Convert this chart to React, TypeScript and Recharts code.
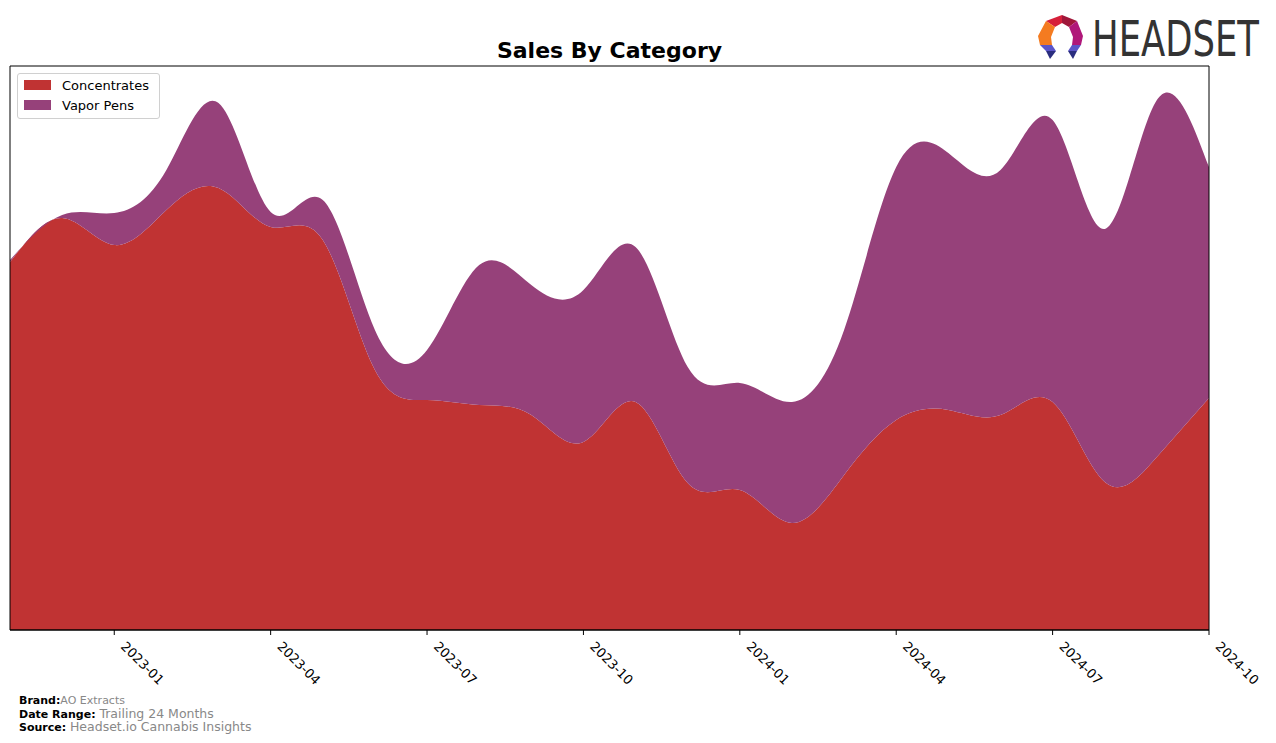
import React from "react";
import { AreaChart, Area, XAxis, YAxis, ReferenceArea } from "recharts";

const months = [
  "2022-11", "2022-12", "2023-01", "2023-02", "2023-03", "2023-04", "2023-05", "2023-06",
  "2023-07", "2023-08", "2023-09", "2023-10", "2023-11", "2023-12", "2024-01", "2024-02",
  "2024-03", "2024-04", "2024-05", "2024-06", "2024-07", "2024-08", "2024-09", "2024-10",
];
const concentrates = [368, 412, 385, 420, 442, 403, 390, 260, 230, 225, 215, 188, 228, 147, 140, 107, 155, 210, 220, 215, 228, 148, 173, 232];
const vaporPens = [2, 3, 32, 40, 85, 15, 40, 40, 50, 140, 130, 152, 155, 116, 107, 121, 145, 253, 257, 245, 282, 253, 357, 231];
const tickIdx = [2, 5, 8, 11, 14, 17, 20, 23];

const data = months.map((m, i) => ({ i, month: m, Concentrates: concentrates[i], "Vapor Pens": vaporPens[i] }));

const RED = "#C03333";
const PURPLE = "#96417A";
const FONT = "'DejaVu Sans', sans-serif";

const Tick = (props: any) => {
  const { x, y, payload } = props;
  const ox = x + 13;
  const oy = y + 3;
  return (
    <g>
      <text
        x={ox}
        y={oy}
        dy="0.78em"
        transform={`rotate(45, ${ox}, ${oy})`}
        textAnchor="start"
        fontSize={13}
        fontFamily={FONT}
        fill="#000"
      >
        {months[payload.value]}
      </text>
    </g>
  );
};

const LegendBox = () => (
  <div
    style={{
      position: "absolute",
      left: 17,
      top: 73,
      width: 141,
      height: 44,
      border: "1px solid #d0d0d0",
      borderRadius: 3,
      background: "rgba(255,255,255,0.8)",
      fontFamily: FONT,
      fontSize: 13,
      color: "#000",
    }}
  >
    {[
      ["Concentrates", RED],
      ["Vapor Pens", PURPLE],
    ].map(([name, c], k) => (
      <div key={name} style={{ position: "absolute", left: 6, top: 3 + k * 20, height: 16, display: "flex", alignItems: "center" }}>
        <div style={{ width: 27, height: 10, background: c }} />
        <span style={{ marginLeft: 11, whiteSpace: "nowrap" }}>{name}</span>
      </div>
    ))}
  </div>
);

const Logo = () => (
  <svg width={240} height={70} style={{ position: "absolute", left: 1030, top: 0, overflow: "visible" }}>
    <polygon points="16,21 32,15 32,23 25,27" fill="#D6203A" />
    <polygon points="32,15 47,21 39,27 32,23" fill="#A0173A" />
    <polygon points="47,21 53,36 51,45 42,45 43,37 39,27" fill="#B0187A" />
    <polygon points="16,21 25,27 21,37 22,45 10,45 8,36" fill="#F47B20" />
    <polygon points="10,45 22,45 26,51 16,51" fill="#5B55C8" />
    <polygon points="16,51 26,51 20,59" fill="#2A2D7F" />
    <polygon points="42,45 51,45 47,51 38,51" fill="#5B55C8" />
    <polygon points="38,51 47,51 43,59" fill="#2A2D7F" />
    <g transform="scale(1,1.24)">
      <text x={62} y={45.2} fontSize={40} fontFamily="'DejaVu Sans Condensed', 'Liberation Sans Narrow', sans-serif" fill="#333" textLength={167} lengthAdjust="spacingAndGlyphs">
        HEADSET
      </text>
    </g>
  </svg>
);

const footLine: React.CSSProperties = { height: 13.5, lineHeight: "13.5px", whiteSpace: "nowrap" };

export default function App() {
  return (
    <div style={{ position: "absolute", left: 0, top: 0, width: 1276, height: 743, background: "#fff", fontFamily: FONT }}>
      <div
        style={{
          position: "absolute",
          left: 10,
          width: 1199,
          top: 39,
          textAlign: "center",
          fontSize: 22,
          fontWeight: "bold",
          fontFamily: FONT,
          lineHeight: "24px",
        }}
      >
        Sales By Category
      </div>
      <Logo />
      <div style={{ position: "absolute", left: 0, top: 0 }}>
        <AreaChart width={1276} height={743} data={data} margin={{ top: 66, right: 67, left: 10, bottom: 83 }}>
          <XAxis
            dataKey="i"
            type="number"
            domain={[0, 23]}
            ticks={tickIdx}
            tick={<Tick />}
            tickSize={5}
            tickLine={{ stroke: "#000" }}
            axisLine={{ stroke: "#000" }}
            height={30}
            interval={0}
          />
          <YAxis hide domain={[0, 564]} />
          <Area type="natural" dataKey="Concentrates" stackId="1" stroke="none" fill={RED} fillOpacity={1} isAnimationActive={false} />
          <Area type="natural" dataKey="Vapor Pens" stackId="1" stroke="none" fill={PURPLE} fillOpacity={1} isAnimationActive={false} />
          <ReferenceArea x1={0} x2={23} y1={0} y2={564} fill="none" stroke="#000" strokeWidth={1} ifOverflow="visible" />
        </AreaChart>
      </div>
      <LegendBox />
      <div style={{ position: "absolute", left: 19, top: 692, fontFamily: FONT }}>
        <div style={footLine}>
          <span style={{ fontWeight: "bold", fontSize: 11 }}>Brand:</span>
          <span style={{ color: "#888", fontSize: 11 }}>AO Extracts</span>
        </div>
        <div style={footLine}>
          <span style={{ fontWeight: "bold", fontSize: 11 }}>Date Range: </span>
          <span style={{ color: "#888", fontSize: 12.5 }}>Trailing 24 Months</span>
        </div>
        <div style={footLine}>
          <span style={{ fontWeight: "bold", fontSize: 11 }}>Source: </span>
          <span style={{ color: "#888", fontSize: 12.5 }}>Headset.io Cannabis Insights</span>
        </div>
      </div>
    </div>
  );
}
